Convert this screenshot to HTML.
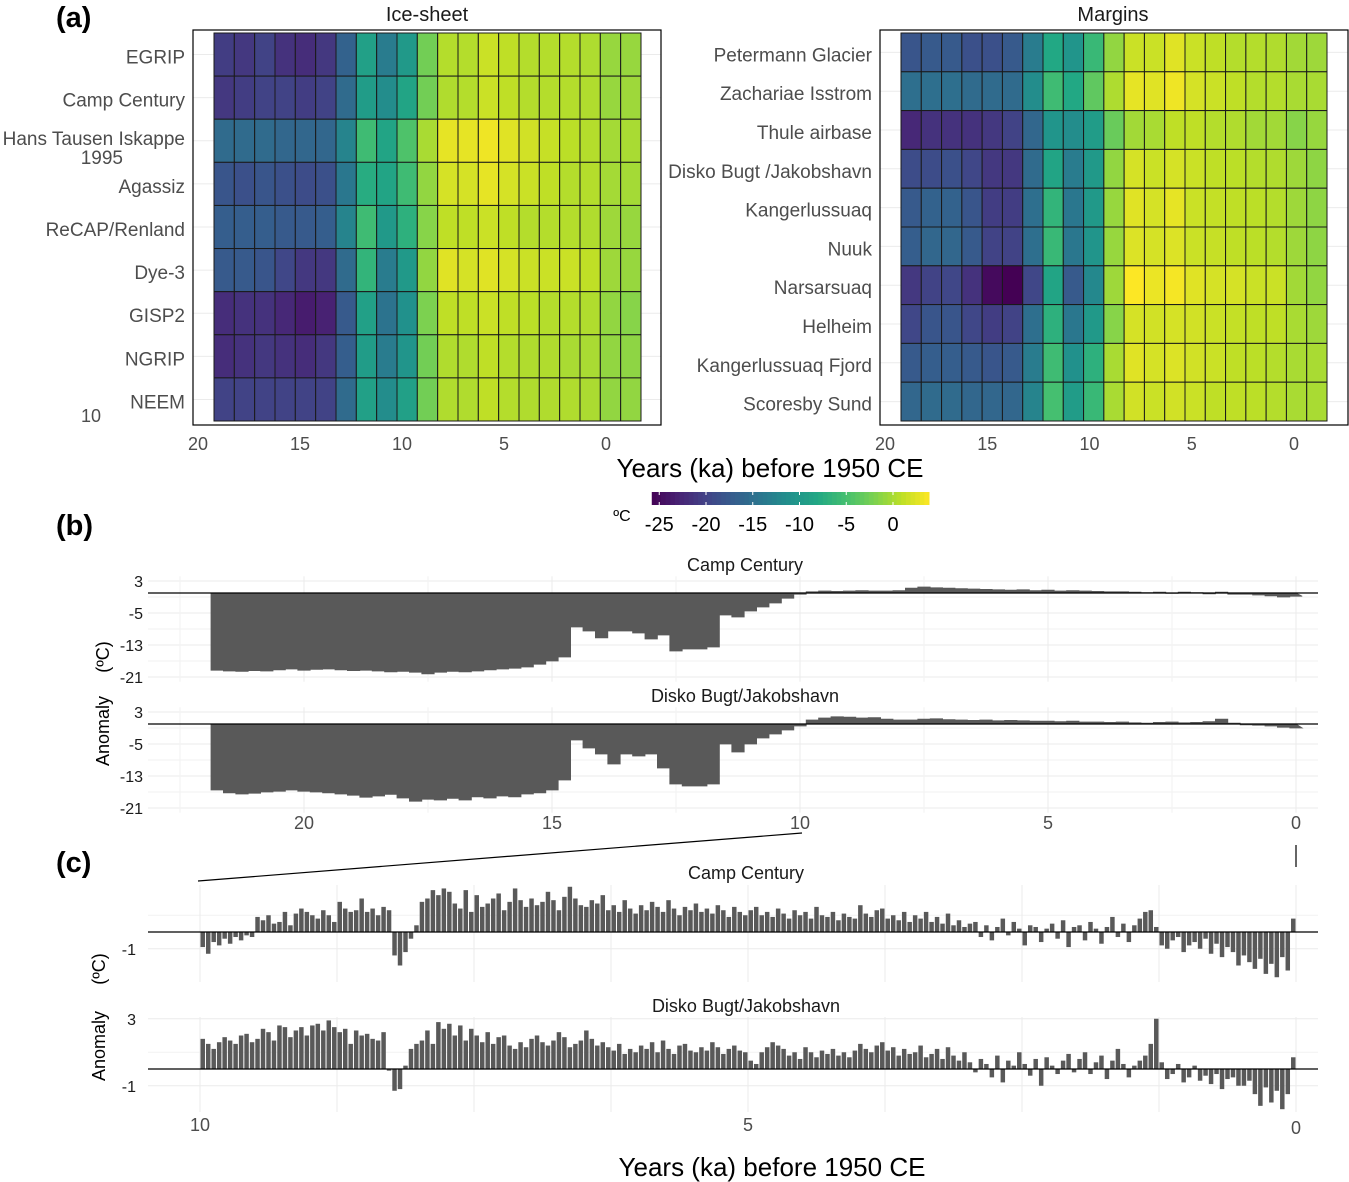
<!DOCTYPE html>
<html><head><meta charset="utf-8"><style>
body{margin:0;background:#fff;}
svg{display:block;font-family:"Liberation Sans",Arial,sans-serif;}
</style></head><body>
<svg id="fig" width="1349" height="1182" viewBox="0 0 1349 1182" xmlns="http://www.w3.org/2000/svg">
<rect width="1349" height="1182" fill="#fff"/>
<g id="pa"></g>
<g id="pb"></g>
<g id="pc"></g>
</svg>
<script>
const iceSites=["EGRIP","Camp Century","Hans Tausen Iskappe|1995","Agassiz","ReCAP/Renland","Dye-3","GISP2","NGRIP","NEEM"];
const iceVals=[
[-20.5,-21,-20,-21.5,-22,-21,-16.5,-9,-13.5,-10,-2.5,0.5,0.5,1.5,1,0.5,0.5,0.5,0.2,-0.8,-0.8],
[-21,-20.5,-20,-20,-20.5,-20,-15.5,-9.5,-11.5,-8.5,-2.5,0.3,0.5,1.5,1,0.5,0.5,0.5,0.3,-0.8,-0.5],
[-15.5,-15.5,-15.5,-16,-16,-16,-12.5,-5.5,-8.5,-4.5,0,2.8,2.8,3.2,2.5,1.8,1.3,0.8,0.5,-0.2,0],
[-18,-18.5,-18,-18.5,-19,-18.5,-14,-7.5,-8.5,-5.5,-1,2,2,2.8,2,1.5,1,0.5,0.5,-0.2,-0.2],
[-17,-17,-17,-17.5,-17.5,-17,-12.5,-5.5,-10,-7,-1.5,1,1,1.5,1,0.5,0.5,0.5,0.3,-0.5,-0.8],
[-17.5,-17.5,-18,-19.5,-21,-21,-15.5,-6.5,-13.5,-10,-1,2.5,2,2.5,2,1.5,1.5,1.5,1,-0.5,-0.8],
[-22,-21.5,-21.5,-22.5,-23.5,-23,-17.5,-9,-14.5,-11,-2,1,1,1.5,1,0.8,0.5,0.5,0.3,-1,-1.5],
[-22,-21.5,-21,-21.5,-22,-21,-17,-9.5,-13.5,-10.5,-2.5,0.3,0.3,1,0.5,0.3,0.3,0,0,-1,-1.2],
[-20,-20,-20,-20,-20,-20,-15.5,-9,-11.5,-9,-2.5,0.3,0.3,1,0.5,0.3,0.3,0.3,0.1,-1,-1]];
const marSites=["Petermann Glacier","Zachariae Isstrom","Thule airbase","Disko Bugt /Jakobshavn","Kangerlussuaq","Nuuk","Narsarsuaq","Helheim","Kangerlussuaq Fjord","Scoresby Sund"];
const marVals=[
[-18,-17.5,-17.5,-18.5,-18.5,-17.5,-13.5,-8,-10.5,-6,-1,1.5,1.5,2.5,1.5,1,0.5,0.5,0.3,-0.3,-0.5],
[-15,-15,-15,-15.5,-15.5,-15.5,-11.5,-5.5,-8,-3.5,0.2,2.8,2.5,3.2,2,1.5,1,0.5,0.5,0,0],
[-22.5,-21.5,-21.5,-21.5,-21,-20,-16,-10.5,-11.5,-9.5,-3,-0.3,0,1,1,0.5,0.3,-0.3,-0.3,-1.5,-0.8],
[-19,-19,-18.5,-19.5,-21,-21,-15.5,-8.5,-13.5,-10,-1,2,1.5,2,1.5,1,0.8,0.5,0.3,-0.5,-1.2],
[-17.5,-16.5,-16.5,-18,-20.5,-20.5,-15,-6.5,-14,-10,-0.8,2.5,2,2.8,1.5,1.2,1,0.8,0.5,-0.5,-1.2],
[-17,-16,-16,-17.5,-20,-20,-15,-6,-14,-10.5,-0.8,2.3,2,2.3,1.5,1.3,1,0.8,0.5,-0.5,-1.2],
[-21,-20,-19.5,-21.5,-25,-26,-19.5,-8.5,-17.5,-12,-0.5,3.8,3,3.5,2.5,2,2,1.5,1.5,-0.3,-1],
[-19.5,-18,-18,-19.5,-20.5,-20,-15,-7,-14,-10,-1.5,2,1.8,2,1.8,1.5,1.2,1,1,0,-0.5],
[-17.5,-17,-17,-17.5,-18,-17.5,-13.5,-5.5,-11,-7,0,2.5,2,2.3,1.8,1.5,1,0.8,0.5,0,0],
[-16,-15.5,-15.5,-16,-16,-16,-12.5,-5,-9.5,-6,0,1.8,1.5,1.8,1.5,1,1,0.8,0.5,0,0]];
const heatTicks=[20,15,10,5,0];
const cbTicks=[-25,-20,-15,-10,-5,0];
const campB=[-19.3,-19.5,-19.6,-19.4,-19.5,-19.2,-19.0,-19.3,-19.1,-19.0,-19.2,-19.4,-19.3,-19.5,-19.7,-19.6,-19.8,-20.2,-19.8,-19.6,
-19.7,-19.5,-19.2,-19.0,-18.8,-18.5,-17.8,-17.0,
-16.0,-8.5,-9.5,-11.2,-9.5,-9.5,-10,-11.5,-10.5,-14.5,-14,-14,
-13.5,-5.5,-6,-4.5,-3.5,-2.5,-1.3,-0.3,
0.3,0.5,0.4,0.5,0.6,0.5,0.5,0.6,1.2,1.5,1.3,1.2,1.1,1.0,0.9,0.8,0.7,0.8,0.6,0.7,0.5,0.6,0.5,0.4,0.3,0.3,0.2,0.1,0.2,-0.1,0.2,0.1,-0.2,0.2,-0.3,-0.3,-0.5,-0.7,-1.0,-0.8];
const diskoB=[-16.5,-17.2,-17.5,-17.3,-17.0,-16.8,-16.5,-16.8,-17.0,-17.2,-17.5,-17.8,-18.3,-18.0,-17.6,-18.5,-19.3,-18.8,-19.0,-18.6,
-19.0,-18.2,-18.5,-18.0,-18.2,-17.5,-17.2,-16.5,
-14,-4,-6,-7.5,-10,-7.5,-8,-7.5,-11,-15,-15.5,-15.5,
-15,-5,-7,-5,-3.5,-2.5,-1.5,-0.5,
1.0,1.5,1.8,1.7,1.5,1.6,1.2,1.0,1.0,1.2,1.3,1.1,1.0,0.9,1.0,0.8,0.9,0.8,0.7,0.7,0.6,0.7,0.5,0.5,0.4,0.5,0.3,0.2,0.4,0.5,0.3,0.4,0.6,1.2,0.2,-0.2,-0.3,-0.5,-0.8,-1.0];
const bTicks=[20,15,10,5,0];
const bYTicks=[3,-5,-13,-21];
const campC=[-0.9,-1.3,-0.6,-0.8,-0.4,-0.7,-0.3,-0.5,-0.2,-0.3,
0.9,0.7,1.0,0.5,0.6,1.2,0.4,1.1,1.4,1.2,
1.0,0.8,1.3,1.0,0.6,1.8,1.4,1.2,1.3,2.0,
1.2,1.4,1.0,1.5,1.3,-1.4,-2.0,-1.2,-0.4,0.4,
1.8,2.0,2.5,2.2,2.6,2.4,1.7,1.4,2.5,1.2,
2.2,1.5,1.7,2.0,2.3,1.3,1.8,2.6,1.9,1.5,
2.0,1.6,1.8,2.4,1.9,1.3,2.1,2.7,2.0,1.6,
1.5,1.9,1.7,2.2,1.3,1.6,1.2,1.9,1.4,1.1,
1.6,1.3,1.8,1.5,1.2,1.9,1.4,1.0,1.5,1.3,
1.7,1.2,1.4,1.1,1.6,1.3,0.9,1.5,1.2,1.0,
1.3,1.5,1.0,1.2,0.9,1.4,1.1,0.8,1.3,1.0,
1.2,0.8,1.5,1.0,0.9,1.2,0.7,1.1,0.9,0.8,
1.6,1.1,0.9,1.3,1.4,0.8,1.0,0.7,1.2,0.6,
1.0,0.8,1.2,0.6,0.9,0.5,1.1,0.4,0.7,0.3,
0.5,0.6,-0.3,0.4,-0.5,0.3,0.8,-0.2,0.6,0.2,
-0.8,0.4,0.3,-0.6,0.2,0.5,-0.4,0.7,-0.9,0.3,
0.4,-0.5,0.6,0.2,-0.7,0.3,0.9,-0.3,0.5,-0.6,
0.4,0.8,1.2,1.3,0.3,-0.8,-1.0,-0.5,-0.3,-1.2,
-0.8,-0.6,-1.0,-0.4,-1.3,-0.7,-1.5,-0.9,-1.2,-2.0,
-1.4,-1.8,-2.2,-1.6,-2.5,-1.9,-2.7,-1.5,-2.3,0.8];
const diskoC=[1.8,1.5,1.2,1.6,1.9,1.7,1.5,2.0,2.1,1.6,
1.8,2.4,2.2,1.7,2.6,2.5,1.9,2.3,2.5,2.0,
2.6,2.7,2.3,2.9,2.5,2.2,2.4,1.5,2.3,2.0,
2.1,1.8,1.7,2.2,-0.1,-1.3,-1.2,0.2,1.2,1.5,
1.7,2.3,1.5,2.8,2.4,2.7,2.0,2.6,1.7,2.4,
2.0,1.6,2.2,1.5,1.9,2.0,1.4,1.2,1.6,1.3,
1.8,2.0,1.6,1.4,1.7,2.2,1.9,1.3,1.5,1.7,
2.3,1.8,1.4,1.6,1.3,1.1,1.5,0.9,1.2,1.0,
1.4,1.2,1.6,1.0,1.7,1.2,0.9,1.4,1.5,1.1,
1.0,1.3,1.1,1.6,1.3,0.9,1.2,1.4,1.1,1.0,
0.5,0.3,1.0,1.3,1.6,1.4,1.2,0.8,1.0,0.6,
1.3,1.0,0.7,1.1,0.9,1.2,0.8,1.0,0.7,1.1,
1.5,1.2,1.0,1.4,1.6,1.1,1.3,0.8,1.2,0.9,
1.0,1.4,0.7,0.9,1.2,0.6,1.3,0.8,0.5,1.0,
0.4,-0.2,0.6,0.3,-0.5,0.8,-0.8,0.5,0.2,1.0,
0.3,-0.4,0.6,-1.0,0.7,0.2,-0.3,0.5,0.9,-0.2,
0.6,1.0,-0.3,0.4,0.8,-0.6,0.5,1.2,0.3,-0.5,
0.2,0.5,0.8,1.5,3.0,0.4,-0.6,-0.3,0.3,-0.8,
-0.5,0.2,-0.7,-0.4,-0.9,-0.3,-1.2,-0.6,-0.5,-1.0,
-1.0,-0.7,-1.5,-2.2,-1.1,-2.0,-1.3,-2.4,-1.5,0.7];
const cTicks=[10,5,0];

const NS="http://www.w3.org/2000/svg";
function mk(parent,tag,attrs,text){const e=document.createElementNS(NS,tag);for(const k in attrs)e.setAttribute(k,attrs[k]);if(text!==undefined)e.textContent=text;parent.appendChild(e);return e;}
const VIR=[[68,1,84],[72,36,117],[65,68,135],[53,95,141],[42,120,142],[33,145,140],[34,168,132],[68,191,112],[122,209,81],[189,223,38],[253,231,37]];
const VMIN=-25.8,VMAX=3.85;
function vir(v){let t=(v-VMIN)/(VMAX-VMIN);t=Math.max(0,Math.min(1,t));const p=t*10,i=Math.min(9,Math.floor(p)),f=p-i;const a=VIR[i],b=VIR[i+1];return `rgb(${a.map((c,k)=>Math.round(c+(b[k]-c)*f)).join(",")})`;}

const A=document.getElementById('pa');
let t;
t=mk(A,'text',{x:56,y:27,'font-size':29,'font-weight':'bold',fill:'#000'},'(a)');


function heat(opts){
  const {x0,x1,cx0,cx1,y0,y1,sites,vals,title,titleX,name,tick0x,tickPx}=opts;
  const g=mk(A,'g',{});
  
  const xs=ka=>tick0x-ka*tickPx;
  const n=sites.length,rh=(y1-y0)/n;
  for(let i=0;i<n;i++){const y=y0+rh*(i+0.5);mk(g,'line',{x1:x0,x2:x1,y1:y,y2:y,stroke:'#ebebeb','stroke-width':1});}
  const cw=(cx1-cx0)/21;
  vals.forEach((row,r)=>{row.forEach((v,c)=>{
    const rc=mk(g,'rect',{x:(cx0+c*cw).toFixed(2),y:(y0+r*rh).toFixed(2),width:cw.toFixed(2),height:rh.toFixed(2),fill:vir(v),stroke:'#1a1a1a','stroke-width':1});
    
  });});
  const b=mk(g,'rect',{x:x0,y:30,width:x1-x0,height:395,fill:'none',stroke:'#000','stroke-width':1.2});
  
  sites.forEach((s,i)=>{const y=y0+rh*(i+0.5)+9;const parts=s.split('|');
    const tx=mk(g,'text',{x:x0-8,y:parts.length>1?y-5:y,'font-size':19,fill:'#4d4d4d','text-anchor':'end'},parts[0]);
    
    if(parts.length>1){const t2=mk(g,'text',{x:x0-70,y:y+14,'font-size':19,fill:'#4d4d4d','text-anchor':'end'},parts[1]);
      }
  });
  heatTicks.forEach(k=>{const tx=mk(g,'text',{x:xs(k),y:450,'font-size':18,fill:'#4d4d4d','text-anchor':'middle'},k);
    });
  const tt=mk(g,'text',{x:titleX,y:21,'font-size':20,fill:'#1a1a1a','text-anchor':'middle'},title);
  
}
heat({x0:193,x1:661,cx0:214,cx1:641,y0:33,y1:421,sites:iceSites,vals:iceVals,title:'Ice-sheet',titleX:427,name:'ice-sheet-heatmap',tick0x:606,tickPx:20.4});
heat({x0:880,x1:1348,cx0:901,cx1:1327,y0:33,y1:421,sites:marSites,vals:marVals,title:'Margins',titleX:1113,name:'margins-heatmap',tick0x:1294,tickPx:20.45});
t=mk(A,'text',{x:101,y:422,'font-size':18,fill:'#4d4d4d','text-anchor':'end'},'10');

t=mk(A,'text',{x:770,y:477,'font-size':26,fill:'#000','text-anchor':'middle'},'Years (ka) before 1950 CE');

const cb=mk(A,'g',{});
const cbx=v=>893+v*9.35;
for(let i=0;i<60;i++){const v0=VMIN+(VMAX-VMIN)*i/60;mk(cb,'rect',{x:cbx(v0).toFixed(2),y:492,width:((VMAX-VMIN)/60*9.35+0.5).toFixed(2),height:13,fill:vir(v0+(VMAX-VMIN)/120)});}
cbTicks.forEach(k=>{mk(cb,'line',{x1:cbx(k),x2:cbx(k),y1:492,y2:495,stroke:'#fff'});mk(cb,'line',{x1:cbx(k),x2:cbx(k),y1:502,y2:505,stroke:'#fff'});
  const tx=mk(cb,'text',{x:cbx(k),y:531,'font-size':20,fill:'#000','text-anchor':'middle'},k);
  });
t=mk(cb,'text',{x:622,y:521,'font-size':16,fill:'#000','text-anchor':'middle'},'ºC');


const B=document.getElementById('pb');
t=mk(B,'text',{x:56,y:535,'font-size':29,'font-weight':'bold',fill:'#000'},'(b)');

const bx=ka=>1296-ka*49.6;
function areaFacet(parent,vals,top,title,name){
  const g=mk(parent,'g',{});
  const ys=v=>top+(3-v)*4;
  const px0=148,px1=1318,py0=ys(4.2),py1=ys(-22.2);
  [-1,-9,-17].forEach(v=>mk(g,'line',{x1:px0,x2:px1,y1:ys(v),y2:ys(v),stroke:'#f2f2f2','stroke-width':1}));
  bYTicks.forEach(v=>mk(g,'line',{x1:px0,x2:px1,y1:ys(v),y2:ys(v),stroke:'#ebebeb','stroke-width':1}));
  [22.5,17.5,12.5,7.5,2.5].forEach(k=>mk(g,'line',{x1:bx(k),x2:bx(k),y1:py0,y2:py1,stroke:'#f2f2f2'}));
  bTicks.forEach(k=>mk(g,'line',{x1:bx(k),x2:bx(k),y1:py0,y2:py1,stroke:'#ebebeb'}));
  let d=`M${bx(21.875).toFixed(1)},${ys(0)}`;
  vals.forEach((v,i)=>{const ka=21.875-i*0.25;d+=` L${bx(ka).toFixed(1)},${ys(v).toFixed(1)} L${bx(ka-0.25).toFixed(1)},${ys(v).toFixed(1)}`;});
  d+=` L${bx(0).toFixed(1)},${ys(0)} Z`;
  const a=mk(g,'path',{d:d,fill:'#595959',stroke:'#595959','stroke-width':0.8});
  
  const z=mk(g,'line',{x1:px0,x2:px1,y1:ys(0),y2:ys(0),stroke:'#000','stroke-width':1.3});
  
  bYTicks.forEach(v=>{const tx=mk(g,'text',{x:143,y:ys(v)+6,'font-size':16,fill:'#1a1a1a','text-anchor':'end'},v);
    });
  const tt=mk(g,'text',{x:745,y:top-10,'font-size':18,fill:'#1a1a1a','text-anchor':'middle'},title);
  
}
areaFacet(B,campB,581,'Camp Century','camp-century-full');
areaFacet(B,diskoB,712,'Disko Bugt/Jakobshavn','disko-full');
bTicks.forEach(k=>{const tx=mk(B,'text',{x:bx(k),y:829,'font-size':18,fill:'#4d4d4d','text-anchor':'middle'},k);
  });
t=mk(B,'text',{transform:'translate(109,657) rotate(-90)','font-size':18,fill:'#000','text-anchor':'middle'},'(ºC)');

t=mk(B,'text',{transform:'translate(109,731) rotate(-90)','font-size':18,fill:'#000','text-anchor':'middle'},'Anomaly');


const C=document.getElementById('pc');
t=mk(C,'text',{x:56,y:872,'font-size':29,'font-weight':'bold',fill:'#000'},'(c)');

mk(C,'line',{x1:198,y1:881,x2:802,y2:833,stroke:'#000','stroke-width':1.2});
mk(C,'line',{x1:1296,y1:845,x2:1296,y2:867,stroke:'#000','stroke-width':1.2});
const cx=ka=>1296-ka*109.6;
function barFacet(parent,vals,zero,top,bottom,title,titleY,labels,name){
  const g=mk(parent,'g',{});
  const ys=v=>zero-v*16.75;
  labels.forEach(v=>mk(g,'line',{x1:148,x2:1318,y1:ys(v),y2:ys(v),stroke:'#ebebeb'}));
  [1].forEach(v=>{if(ys(v)>top)mk(g,'line',{x1:148,x2:1318,y1:ys(v),y2:ys(v),stroke:'#f2f2f2'});});
  for(let k=0;k<=8;k++){const x=cx(k*1.25);mk(g,'line',{x1:x,x2:x,y1:top,y2:bottom,stroke:'#ebebeb'});}
  const w=109.6*0.05;
  vals.forEach((v,i)=>{const ka=10-i*0.05;const x=cx(ka);
    const r=mk(g,'rect',{x:(x+0.5).toFixed(2),y:Math.min(ys(v),zero).toFixed(2),width:(w-1).toFixed(2),height:Math.abs(ys(v)-zero).toFixed(2),fill:'#595959'});
    });
  const z=mk(g,'line',{x1:148,x2:1318,y1:zero,y2:zero,stroke:'#000','stroke-width':1.3});
  
  labels.forEach(v=>{const tx=mk(g,'text',{x:136,y:ys(v)+6,'font-size':16,fill:'#1a1a1a','text-anchor':'end'},v);
    });
  const tt=mk(g,'text',{x:746,y:titleY,'font-size':18,fill:'#1a1a1a','text-anchor':'middle'},title);
  
}
barFacet(C,campC,932,885,982,'Camp Century',879,[-1],'camp-century-holocene');
barFacet(C,diskoC,1069,1017,1112,'Disko Bugt/Jakobshavn',1012,[3,-1],'disko-holocene');
cTicks.forEach((k,i)=>{const tx=mk(C,'text',{x:cx(k),y:i==2?1134:1131,'font-size':18,fill:'#4d4d4d','text-anchor':'middle'},k);
  });
t=mk(C,'text',{transform:'translate(105,969) rotate(-90)','font-size':18,fill:'#000','text-anchor':'middle'},'(ºC)');

t=mk(C,'text',{transform:'translate(105,1046) rotate(-90)','font-size':18,fill:'#000','text-anchor':'middle'},'Anomaly');

t=mk(C,'text',{x:772,y:1176,'font-size':26,fill:'#000','text-anchor':'middle'},'Years (ka) before 1950 CE');

</script>
</body></html>
